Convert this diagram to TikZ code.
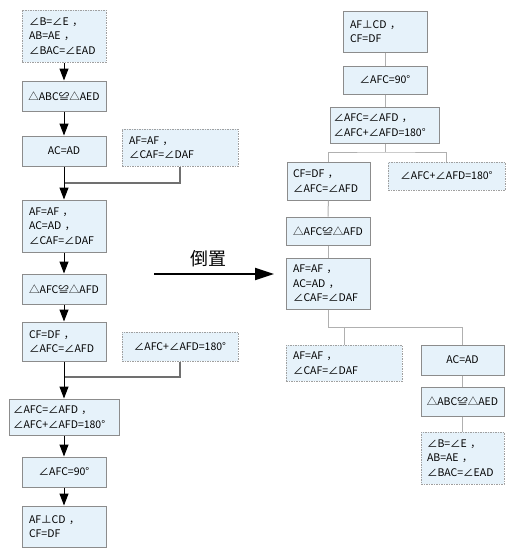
\documentclass[tikz,border=0pt]{standalone}
\usepackage{fontspec}
\setmainfont{Noto Sans CJK SC}
\usetikzlibrary{arrows.meta}
\definecolor{boxfill}{HTML}{E6F2FA}
\definecolor{boxline}{HTML}{8C8C8C}
\definecolor{dashline}{HTML}{A0A0A0}
\definecolor{treeline}{HTML}{B0B0B0}
\definecolor{mergeline}{HTML}{707070}
\tikzset{
  solidbox/.style={draw=boxline, line width=1pt, fill=boxfill, inner xsep=7pt, inner ysep=0pt,
    align=left, font=\fontsize{10.5}{14.5}\selectfont},
  dashbox/.style={solidbox, draw=dashline, dash pattern=on 1.5pt off 1pt},
  ctr/.style={align=center},
  arr/.style={draw=black, line width=1pt, -{Triangle[width=9pt,length=12pt]}},
  mergeln/.style={draw=mergeline, line width=1.5pt},
  treeln/.style={draw=treeline, line width=1pt},
  bigarr/.style={draw=black, line width=2pt, -{Triangle[width=12pt,length=19pt]}},
  biglabel/.style={font=\fontsize{18}{20}\selectfont, inner sep=0pt}
}
\begin{document}
\begin{tikzpicture}[x=1pt,y=-1pt]
\useasboundingbox (0,0) rectangle (516,558);
% ---------- left column ----------
\node[dashbox, text width=70pt, minimum height=52pt] (L1) at (64,36) {∠B=∠E ，\\AB=AE ，\\∠BAC=∠EAD};
\node[solidbox, ctr, text width=76pt, inner xsep=4pt, minimum height=30pt] (L2) at (64,96) {△ABC≌△AED};
\node[solidbox, ctr, text width=70pt, minimum height=30pt] (L3) at (64,151) {AC=AD};
\node[dashbox, text width=102pt, minimum height=37pt] (L3b) at (180,147.5) {AF=AF ，\\∠CAF=∠DAF};
\node[solidbox, text width=70pt, minimum height=52pt] (L4) at (64,226) {AF=AF ，\\AC=AD ，\\∠CAF=∠DAF};
\node[solidbox, ctr, text width=76pt, inner xsep=4pt, minimum height=30pt] (L5) at (64,289) {△AFC≌△AFD};
\node[solidbox, text width=70pt, minimum height=39pt] (L6) at (64,341.5) {CF=DF ，\\∠AFC=∠AFD};
\node[dashbox, ctr, text width=108pt, inner xsep=4pt, minimum height=29pt] (L6b) at (180,346.5) {∠AFC+∠AFD=180°};
\node[solidbox, text width=102pt, inner xsep=4pt, minimum height=36pt] (L7) at (64,417) {∠AFC=∠AFD ，\\∠AFC+∠AFD=180°};
\node[solidbox, ctr, text width=70pt, minimum height=30pt] (L8) at (64,472) {∠AFC=90°};
\node[solidbox, text width=70pt, minimum height=41pt] (L9) at (64,526.5) {AF⊥CD ，\\CF=DF};
\coordinate (m1) at (64,183);
\coordinate (m2) at (64,377);
\draw[mergeln] (L3b.south) |- (m1);
\draw[mergeln] (L6b.south) |- (m2);
\draw[arr] (L1) -- (L2);
\draw[arr] (L2) -- (L3);
\draw[arr] (L3) -- (L4);
\draw[arr] (L4) -- (L5);
\draw[arr] (L5) -- (L6);
\draw[arr] (L6) -- (L7);
\draw[arr] (L7) -- (L8);
\draw[arr] (L8) -- (L9);
% ---------- middle arrow ----------
\coordinate (a1) at (154,274);
\coordinate (a2) at (274,274);
\draw[bigarr] (a1) -- (a2);
\node[biglabel] (lab) at (208,259) {倒置};
% ---------- right column ----------
\node[solidbox, text width=70pt, minimum height=41pt] (R1) at (385,31.5) {AF⊥CD ，\\CF=DF};
\node[solidbox, ctr, text width=70pt, minimum height=28pt] (R2) at (385,80) {∠AFC=90°};
\node[solidbox, text width=103pt, inner xsep=3pt, minimum height=36pt] (R3) at (385,125) {∠AFC=∠AFD ，\\∠AFC+∠AFD=180°};
\node[solidbox, text width=71pt, inner xsep=6pt, minimum height=38pt] (R4) at (328.5,181) {CF=DF ，\\∠AFC=∠AFD};
\node[dashbox, ctr, text width=109pt, inner xsep=4pt, minimum height=28pt] (R5) at (446.5,176) {∠AFC+∠AFD=180°};
\node[solidbox, ctr, text width=76pt, inner xsep=4pt, minimum height=28pt] (R6) at (328,231) {△AFC≌△AFD};
\node[solidbox, text width=70pt, minimum height=51pt] (R7) at (328,283.5) {AF=AF ，\\AC=AD ，\\∠CAF=∠DAF};
\node[dashbox, text width=102pt, minimum height=36pt] (R8) at (344,363) {AF=AF ，\\∠CAF=∠DAF};
\node[solidbox, ctr, text width=69pt, minimum height=30pt] (R9) at (462.5,360) {AC=AD};
\node[solidbox, ctr, text width=75pt, inner xsep=4pt, minimum height=29pt] (R10) at (462.5,401.5) {△ABC≌△AED};
\node[dashbox, text width=71pt, inner xsep=6pt, minimum height=52pt] (R11) at (462.5,458) {∠B=∠E ，\\AB=AE ，\\∠BAC=∠EAD};
\coordinate (b1) at (385,152);
\coordinate (b2) at (328,327);
\draw[treeln] (R1) -- (R2);
\draw[treeln] (R2) -- (R3);
\draw[treeln] (R3.south) -- (b1);
\draw[treeln] (R4.north) |- (b1) -| (R5.north);
\draw[treeln] (R4) -- (R6);
\draw[treeln] (R6) -- (R7);
\draw[treeln] (R7.south) -- (b2) -| (R9.north);
\draw[treeln] (R8.north) -- (R8.north |- b2);
\draw[treeln] (R9) -- (R10);
\draw[treeln] (R10) -- (R11);
\end{tikzpicture}
\end{document}
